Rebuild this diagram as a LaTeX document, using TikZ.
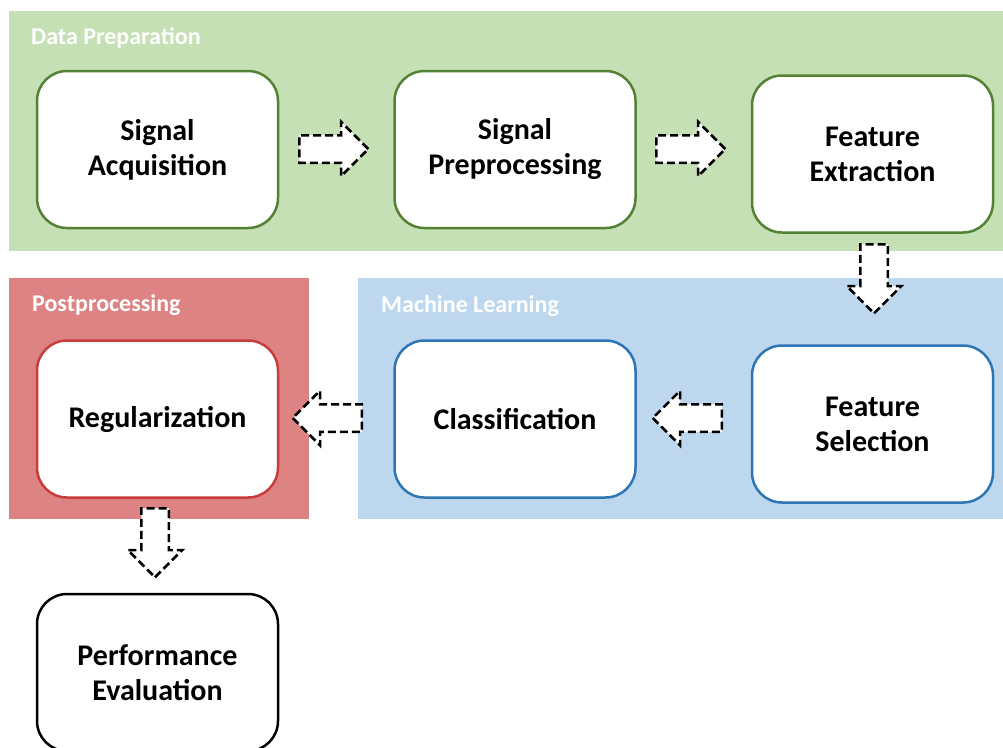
\documentclass[tikz,border=0pt]{standalone}
\usepackage{fontspec}
\setmainfont{Carlito}
\usetikzlibrary{shapes.arrows}

\definecolor{prepfill}{HTML}{C5E0B4}
\definecolor{prepline}{HTML}{548235}
\definecolor{postfill}{HTML}{DD8383}
\definecolor{postline}{HTML}{C83C3C}
\definecolor{mlfill}{HTML}{BDD7EE}
\definecolor{mlline}{HTML}{2E75B6}

\tikzset{
  stage/.style={draw=#1, line width=2.5pt, fill=white, rounded corners=30pt,
    minimum width=241pt, minimum height=157pt, align=center,
    font=\fontsize{30}{35}\selectfont\bfseries, inner sep=0pt},
  panel/.style={fill=#1, draw=none},
  paneltitle/.style={anchor=west, text=white, inner sep=0pt,
    font=\fontsize{24}{28}\selectfont\bfseries},
  flow/.style={single arrow, draw=black, fill=white, line width=2.5pt,
    dash pattern=on 8pt off 4pt, inner sep=12.5pt,
    minimum height=69pt, single arrow head extend=13.5pt,
    single arrow head indent=0pt, shape border rotate=#1, anchor=tail},
  flow/.default=0
}

\begin{document}
\begin{tikzpicture}[x=1pt, y=-1pt]
  \useasboundingbox (0,0) rectangle (1003,747);
  \clip (0,0) rectangle (1003,747);

  % group backgrounds
  \fill[panel=prepfill] (9,11) rectangle (1003,251);
  \fill[panel=postfill] (9,278) rectangle (309,519);
  \fill[panel=mlfill] (358,278) rectangle (1003,519);

  \node[paneltitle] (tprep) at (31,38) {Data Preparation};
  \node[paneltitle] (tpost) at (32,305) {Postprocessing};
  \node[paneltitle] (tml) at (381,306) {Machine Learning};

  % processing stages
  \node[stage=prepline] (sa) at (157.5,149.5) {Signal\\Acquisition};
  \node[stage=prepline] (sp) at (515,149.5) {Signal\\Preprocessing};
  \node[stage=prepline] (fe) at (872.5,154) {Feature\\Extraction};
  \node[stage=mlline] (fs) at (872.5,424) {Feature\\Selection};
  \node[stage=mlline] (cl) at (515,419) {Classification};
  \node[stage=postline] (rg) at (157.5,419) {Regularization};
  \node[stage=black] (pe) at (157.5,672.5) {Performance\\Evaluation};

  % dashed block arrows between stages
  \node[flow] (a1) at (298,149) {};
  \node[flow] (a2) at (655,149) {};
  \node[flow=270] (a3) at (874,243) {};
  \node[flow=180] (a4) at (363,418) {};
  \node[flow=180] (a5) at (723,418) {};
  \node[flow=270] (a6) at (155,507) {};
\end{tikzpicture}
\end{document}
